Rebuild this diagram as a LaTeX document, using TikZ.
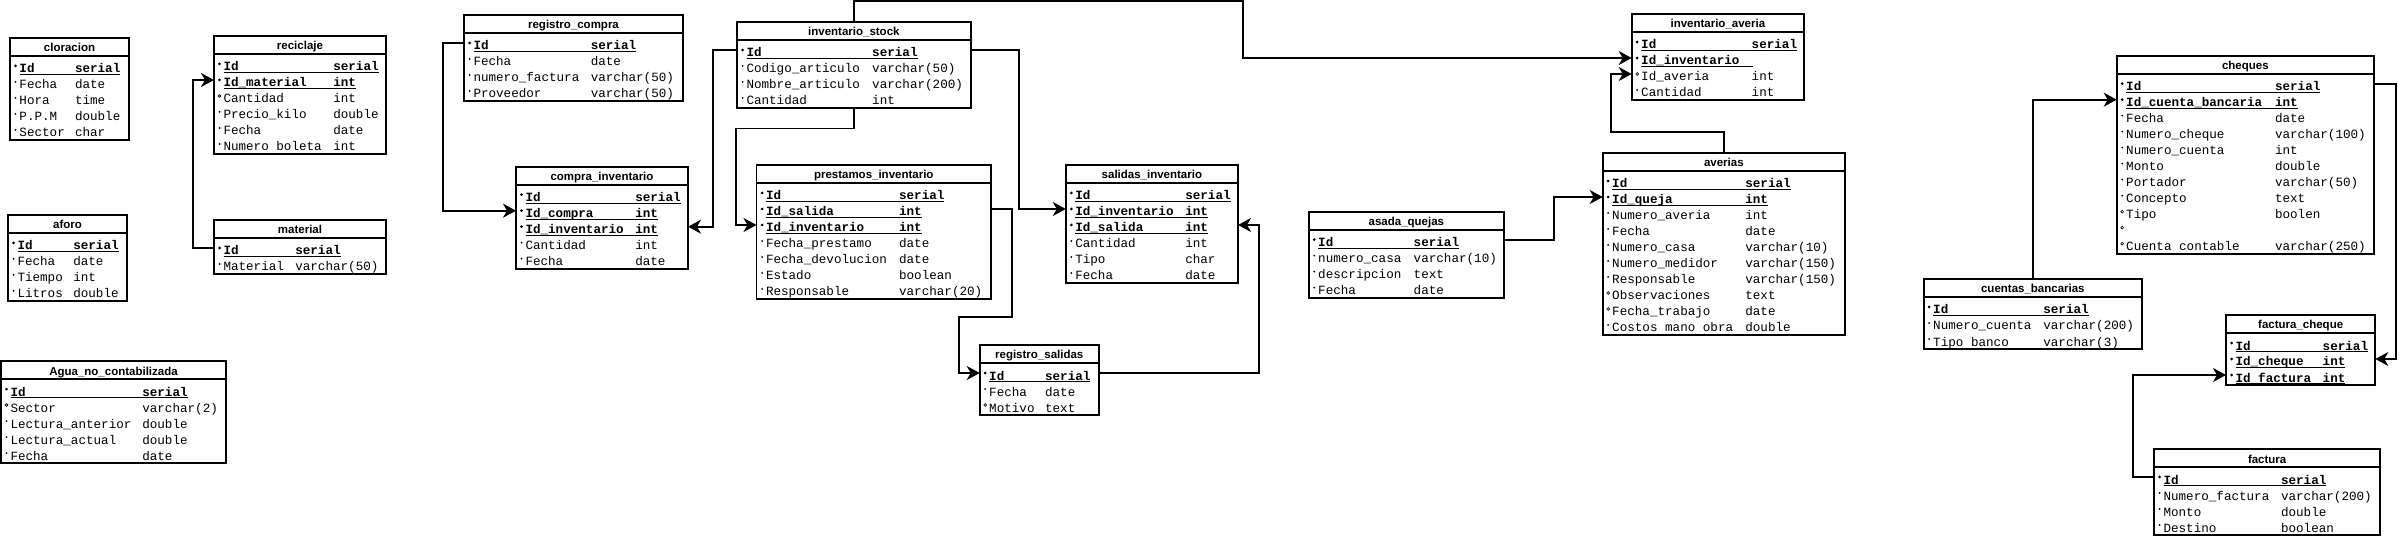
\documentclass[tikz,border=0pt]{standalone}
\usepackage{fontspec}
\usetikzlibrary{arrows.meta,calc}
\newfontfamily\hdrfont{Liberation Sans}
\newfontfamily\rowfont{Liberation Mono}
\tikzset{
 tblbox/.style={draw, line width=1.7pt, inner sep=0pt, outer sep=0pt, fill=white},
 boxline/.style={line width=1.7pt},
 ttl/.style={font=\hdrfont\bfseries\fontsize{11.5}{13}\selectfont, anchor=base, inner sep=0pt},
 rowtxt/.style={font=\rowfont\fontsize{12.6}{14}\selectfont, anchor=base west, inner sep=0pt, outer sep=0pt},
 rowkey/.style={rowtxt, font=\rowfont\bfseries\fontsize{12.6}{14}\selectfont},
 uline/.style={line width=1pt},
 conn/.style={line width=1.7pt, -{Stealth[length=13pt,width=14pt,inset=4pt]}},
}
% #1 name #2 L #3 T #4 R #5 nrows #6 type column #7 title
\newcommand\tabl[7]{%
  \def\TN{#1}\def\TL{#2}\def\TT{#3}\def\TR{#4}\def\TX{#6}%
  \pgfmathsetmacro\TB{#3+22+16*#5}%
  \node[tblbox, minimum width={(#4-#2)*1pt}, minimum height={(\TB-#3)*1pt}] (#1) at ({(#2+#4)/2},{(#3+\TB)/2}) {};
  \draw[boxline] ({#2},{#3+18}) -- ({#4},{#3+18});
  \node[ttl] (#1-title) at ({(#2+#4)/2},{#3+14}) {#7};
}
\newcommand\rowbase[1]{%
  \pgfmathsetmacro\RY{\TT+31+16*(#1-1)}%
  \coordinate (\TN-w#1) at ({\TL},{\RY-3});
  \coordinate (\TN-e#1) at ({\TR},{\RY-3});
}
\newcommand\rk[3]{\rowbase{#1}
  \fill ({\TL+5.5},{\RY-3}) circle (1.5pt);
  \node[rowkey] (\TN-n#1) at ({\TL+9.5},{\RY+4}) {#2};
  \node[rowkey] (\TN-t#1) at ({\TX},{\RY+4}) {#3};
  \draw[uline] ([yshift=-1.5pt]\TN-n#1.base west) -- ([yshift=-1.5pt]\TN-t#1.base east);
}
\newcommand\rn[3]{\rowbase{#1}
  \fill ({\TL+5.5},{\RY-3}) circle (1pt);
  \node[rowtxt] (\TN-n#1) at ({\TL+9.5},{\RY+4}) {#2};
  \node[rowtxt] (\TN-t#1) at ({\TX},{\RY+4}) {#3};
}
\newcommand\ro[3]{\rowbase{#1}
  \draw[line width=0.6pt] ({\TL+5.5},{\RY-3}) circle (1.4pt);
  \node[rowtxt] (\TN-n#1) at ({\TL+9.5},{\RY+4}) {#2};
  \node[rowtxt] (\TN-t#1) at ({\TX},{\RY+4}) {#3};
}
\begin{document}
\begin{tikzpicture}[x=1pt,y=-1pt]
\useasboundingbox[fill=white] (0,0) rectangle (2399,537);

\tabl{cloracion}{10}{38}{129}{5}{75}{cloracion}
\rk{1}{Id}{serial}
\rn{2}{Fecha}{date}
\rn{3}{Hora}{time}
\rn{4}{P.P.M}{double}
\rn{5}{Sector}{char}

\tabl{reciclaje}{214}{36}{386}{6}{333.3}{reciclaje}
\rk{1}{Id}{serial}
\rk{2}{Id\_material}{int}
\ro{3}{Cantidad}{int}
\rn{4}{Precio\_kilo}{double}
\rn{5}{Fecha}{date}
\rn{6}{Numero boleta}{int}

\tabl{material}{214}{220}{386}{2}{295.3}{material}
\rk{1}{Id}{serial}
\rn{2}{Material}{varchar(50)}

\tabl{aforo}{8}{215}{127}{4}{73.3}{aforo}
\rk{1}{Id}{serial}
\rn{2}{Fecha}{date}
\rn{3}{Tiempo}{int}
\rn{4}{Litros}{double}

\tabl{agua}{1}{361}{226}{5}{142.3}{Agua\_no\_contabilizada}
\rk{1}{Id}{serial}
\ro{2}{Sector}{varchar(2)}
\rn{3}{Lectura\_anterior}{double}
\rn{4}{Lectura\_actual}{double}
\rn{5}{Fecha}{date}

\tabl{registro_compra}{464}{15}{683}{4}{590.8}{registro\_compra}
\rk{1}{Id}{serial}
\rn{2}{Fecha}{date}
\rn{3}{numero\_factura}{varchar(50)}
\rn{4}{Proveedor}{varchar(50)}

\tabl{compra_inventario}{516}{166.7}{688}{5}{635.3}{compra\_inventario}
\rk{1}{Id}{serial}
\rk{2}{Id\_compra}{int}
\rk{3}{Id\_inventario}{int}
\rn{4}{Cantidad}{int}
\rn{5}{Fecha}{date}

\tabl{inventario_stock}{737}{22}{970.7}{4}{872.2}{inventario\_stock}
\rk{1}{Id}{serial}
\rn{2}{Codigo\_articulo}{varchar(50)}
\rn{3}{Nombre\_articulo}{varchar(200)}
\rn{4}{Cantidad}{int}

\tabl{prestamos_inventario}{756.5}{165}{991}{7}{899.1}{prestamos\_inventario}
\rk{1}{Id}{serial}
\rk{2}{Id\_salida}{int}
\rk{3}{Id\_inventario}{int}
\rn{4}{Fecha\_prestamo}{date}
\rn{5}{Fecha\_devolucion}{date}
\rn{6}{Estado}{boolean}
\rn{7}{Responsable}{varchar(20)}

\tabl{salidas_inventario}{1065.8}{165}{1238}{6}{1185.3}{salidas\_inventario}
\rk{1}{Id}{serial}
\rk{2}{Id\_inventario}{int}
\rk{3}{Id\_salida}{int}
\rn{4}{Cantidad}{int}
\rn{5}{Tipo}{char}
\rn{6}{Fecha}{date}

\tabl{registro_salidas}{979.7}{345}{1098.8}{3}{1045.1}{registro\_salidas}
\rk{1}{Id}{serial}
\rn{2}{Fecha}{date}
\ro{3}{Motivo}{text}

\tabl{inventario_averia}{1631.7}{14}{1804}{4}{1751.7}{inventario\_averia}
\rk{1}{Id}{serial}
\rk{2}{Id\_inventario}{}
\ro{3}{Id\_averia}{int}
\rn{4}{Cantidad}{int}

\tabl{averias}{1602.7}{153}{1845}{10}{1745.3}{averias}
\rk{1}{Id}{serial}
\rk{2}{Id\_queja}{int}
\rn{3}{Numero\_averia}{int}
\rn{4}{Fecha}{date}
\rn{5}{Numero\_casa}{varchar(10)}
\rn{6}{Numero\_medidor}{varchar(150)}
\rn{7}{Responsable}{varchar(150)}
\ro{8}{Observaciones}{text}
\ro{9}{Fecha\_trabajo}{date}
\rn{10}{Costos mano obra}{double}

\tabl{asada_quejas}{1308.7}{211.7}{1504}{4}{1413.7}{asada\_quejas}
\rk{1}{Id}{serial}
\rn{2}{numero\_casa}{varchar(10)}
\rn{3}{descripcion}{text}
\rn{4}{Fecha}{date}

\tabl{cheques}{2116.7}{55.7}{2374}{11}{2275}{cheques}
\rk{1}{Id}{serial}
\rk{2}{Id\_cuenta\_bancaria}{int}
\rn{3}{Fecha}{date}
\rn{4}{Numero\_cheque}{varchar(100)}
\rn{5}{Numero\_cuenta}{int}
\rn{6}{Monto}{double}
\rn{7}{Portador}{varchar(50)}
\rn{8}{Concepto}{text}
\ro{9}{Tipo}{boolen}
\ro{10}{}{}
\ro{11}{Cuenta contable}{varchar(250)}

\tabl{cuentas_bancarias}{1923.7}{279}{2142}{3}{2043.3}{cuentas\_bancarias}
\rk{1}{Id}{serial}
\rn{2}{Numero\_cuenta}{varchar(200)}
\rn{3}{Tipo banco}{varchar(3)}

\tabl{factura_cheque}{2226}{315}{2375.3}{3}{2322.7}{factura\_cheque}
\rk{1}{Id}{serial}
\rk{2}{Id\_cheque}{int}
\rk{3}{Id factura}{int}

\tabl{factura}{2154}{449}{2380.3}{4}{2281}{factura}
\rk{1}{Id}{serial}
\rn{2}{Numero\_factura}{varchar(200)}
\rn{3}{Monto}{double}
\rn{4}{Destino}{boolean}

% connectors
\draw[conn] (material-w1) -- ++(-21,0) |- (reciclaje-w2);
\draw[conn] (registro_compra-w1) -- ++(-21,0) |- (compra_inventario-w2);
\draw[conn] (inventario_stock-w1) -- ++(-24,0) |- (compra_inventario-e3);
\draw[conn] (inventario_stock.south) -- ++(0,20.6) -| ($(prestamos_inventario-w3)+(-20.5,0)$) -- (prestamos_inventario-w3);
\draw[conn] (inventario_stock.north) -- ++(0,-21) -| ($(inventario_averia-w2)+(-389,0)$) -- (inventario_averia-w2);
\draw[conn] (inventario_stock-e1) -| ($(salidas_inventario-w2)+(-47,0)$) -- (salidas_inventario-w2);
\draw[conn] (prestamos_inventario-e2) -- ++(21,0) |- ($(registro_salidas-w1)+(-20.7,-56.3)$) |- (registro_salidas-w1);
\draw[conn] (registro_salidas-e1) -| ($(salidas_inventario-e3)+(21,0)$) -- (salidas_inventario-e3);
\draw[conn] (averias.north) -- ++(0,-21.3) -| ($(inventario_averia-w3)+(-20.7,0)$) -- (inventario_averia-w3);
\draw[conn] (asada_quejas-e1) -| ($(averias-w2)+(-48.7,0)$) -- (averias-w2);
\draw[conn] (cuentas_bancarias.north) |- (cheques-w2);
\draw[conn] (cheques-e1) -| ($(factura_cheque-e2)+(20.7,0)$) -- (factura_cheque-e2);
\draw[conn] (factura-w1) -| ($(factura_cheque-w3)+(-93.3,0)$) -- (factura_cheque-w3);
\end{tikzpicture}
\end{document}
